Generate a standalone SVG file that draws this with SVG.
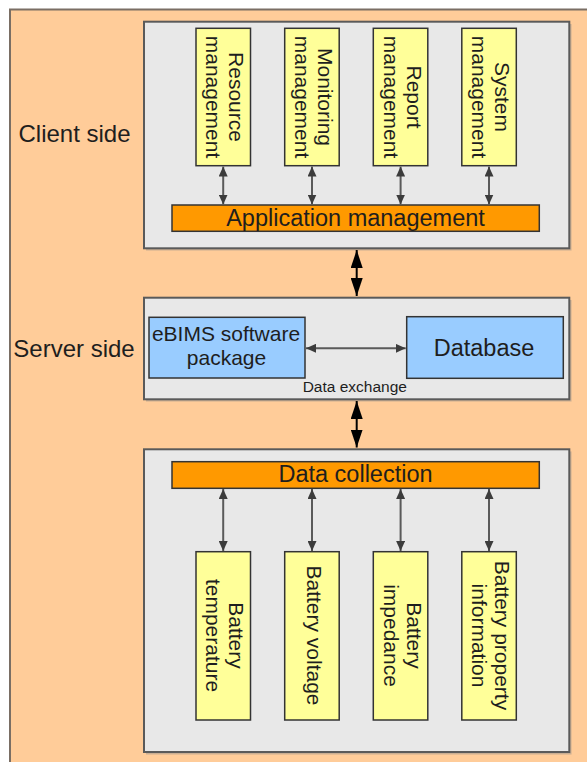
<svg xmlns="http://www.w3.org/2000/svg" width="587" height="762" viewBox="0 0 587 762">
<style>
  text { font-family: "Liberation Sans", Arial, sans-serif; fill: #1e1e1e; }
  .panel { fill: #E8E8E8; stroke: #5a5a5a; stroke-width: 2; }
  .shadow { fill: #8a8a8a; opacity: 0.45; }
  .ybox { fill: #FFFF99; stroke: #333; stroke-width: 1.5; }
  .bar { fill: #FF9900; stroke: #333; stroke-width: 1.5; }
  .bbox { fill: #99CCFF; stroke: #333; stroke-width: 1.5; }
  .big { font-size: 23.5px; }
  .side { font-size: 24px; }
  .vt { font-size: 21px; text-anchor: middle; }
  .mid { text-anchor: middle; }
  .small { stroke: #5a5a5a; stroke-width: 2; fill: none; marker-start: url(#sh); marker-end: url(#sh); }
  .thick { stroke: #000; stroke-width: 2; fill: none; marker-start: url(#bh); marker-end: url(#bh); }
</style>
<defs>
  <marker id="sh" markerUnits="userSpaceOnUse" markerWidth="10" markerHeight="9" refX="10" refY="4.5" orient="auto-start-reverse">
    <path d="M0,0 L10,4.5 L0,9 z" fill="#3c3c3c"/>
  </marker>
  <marker id="bh" markerUnits="userSpaceOnUse" markerWidth="18" markerHeight="12" refX="18" refY="6" orient="auto-start-reverse">
    <path d="M0,0 L18,6 L0,12 z" fill="#000"/>
  </marker>
</defs>

<g id="background">
  <rect x="10" y="9.5" width="600" height="800" fill="#FFCC99" stroke="#7a6e64" stroke-width="2"/>
</g>

<g id="client-panel">
  <rect class="shadow" x="146" y="24" width="425.5" height="226.5"/>
  <rect class="panel" x="144" y="21.7" width="425.3" height="226.6"/>
  <text class="side" x="18.5" y="141.5">Client side</text>
</g>
<g id="resource-management">
  <rect class="ybox" x="196" y="28.3" width="54.5" height="137.4"/>
  <text class="vt" transform="translate(223.2,97) rotate(90)"><tspan x="0" y="-6">Resource</tspan><tspan x="0" y="17">management</tspan></text>
</g>
<g id="monitoring-management">
  <rect class="ybox" x="284.7" y="28.3" width="54.5" height="137.4"/>
  <text class="vt" transform="translate(312,97) rotate(90)"><tspan x="0" y="-6">Monitoring</tspan><tspan x="0" y="17">management</tspan></text>
</g>
<g id="report-management">
  <rect class="ybox" x="373.3" y="28.3" width="54.5" height="137.4"/>
  <text class="vt" transform="translate(400.6,97) rotate(90)"><tspan x="0" y="-6">Report</tspan><tspan x="0" y="17">management</tspan></text>
</g>
<g id="system-management">
  <rect class="ybox" x="461.8" y="28.3" width="54.5" height="137.4"/>
  <text class="vt" transform="translate(489,97) rotate(90)"><tspan x="0" y="-6">System</tspan><tspan x="0" y="17">management</tspan></text>
</g>
<g id="application-management">
  <rect class="bar" x="172" y="205" width="367.3" height="26.3"/>
  <text class="big mid" x="355.5" y="225.5">Application management</text>
</g>

<g id="server-panel">
  <rect class="shadow" x="146" y="300" width="425.5" height="101.5"/>
  <rect class="panel" x="144" y="297.7" width="425.3" height="101.6"/>
  <text class="side" x="13.3" y="357.3">Server side</text>
  <text class="mid" style="font-size:15.5px" x="354.8" y="391.7">Data exchange</text>
</g>
<g id="ebims-package">
  <rect class="bbox" x="149" y="317.3" width="156" height="60.7"/>
  <text class="mid" style="font-size:21px" x="226" y="340.7">eBIMS software</text>
  <text class="mid" style="font-size:21px" x="226.5" y="364.5">package</text>
</g>
<g id="database">
  <rect class="bbox" x="406.7" y="316.7" width="156.6" height="61.6"/>
  <text class="big mid" x="484" y="356">Database</text>
</g>

<g id="collection-panel">
  <rect class="shadow" x="146" y="451.5" width="425.5" height="303"/>
  <rect class="panel" x="144" y="449.3" width="425.3" height="302.7"/>
</g>
<g id="data-collection">
  <rect class="bar" x="172" y="461.7" width="367.3" height="26.6"/>
  <text class="big mid" x="355.5" y="482">Data collection</text>
</g>
<g id="battery-temperature">
  <rect class="ybox" x="196" y="551.7" width="54.5" height="168.3"/>
  <text class="vt" transform="translate(223.2,635.5) rotate(90)"><tspan x="0" y="-6">Battery</tspan><tspan x="0" y="17">temperature</tspan></text>
</g>
<g id="battery-voltage">
  <rect class="ybox" x="284.7" y="551.7" width="54.5" height="168.3"/>
  <text class="vt" transform="translate(312,635.5) rotate(90)"><tspan x="0" y="5.5">Battery voltage</tspan></text>
</g>
<g id="battery-impedance">
  <rect class="ybox" x="373.3" y="551.7" width="54.5" height="168.3"/>
  <text class="vt" transform="translate(400.6,635.5) rotate(90)"><tspan x="0" y="-6">Battery</tspan><tspan x="0" y="17">impedance</tspan></text>
</g>
<g id="battery-property-information">
  <rect class="ybox" x="461.8" y="551.7" width="54.5" height="168.3"/>
  <text class="vt" transform="translate(489,635.5) rotate(90)"><tspan x="0" y="-6">Battery property</tspan><tspan x="0" y="17">information</tspan></text>
</g>

<g id="connectors">
  <line class="small" x1="223.2" y1="166.5" x2="223.2" y2="204.5"/>
  <line class="small" x1="312" y1="166.5" x2="312" y2="204.5"/>
  <line class="small" x1="400.6" y1="166.5" x2="400.6" y2="204.5"/>
  <line class="small" x1="489" y1="166.5" x2="489" y2="204.5"/>
  <line class="thick" x1="356.7" y1="250" x2="356.7" y2="296"/>
  <line class="small" x1="306" y1="348.3" x2="405.7" y2="348.3"/>
  <line class="thick" x1="356.7" y1="401" x2="356.7" y2="447.5"/>
  <line class="small" x1="223.2" y1="489" x2="223.2" y2="551"/>
  <line class="small" x1="312" y1="489" x2="312" y2="551"/>
  <line class="small" x1="400.6" y1="489" x2="400.6" y2="551"/>
  <line class="small" x1="489" y1="489" x2="489" y2="551"/>
</g>
</svg>
